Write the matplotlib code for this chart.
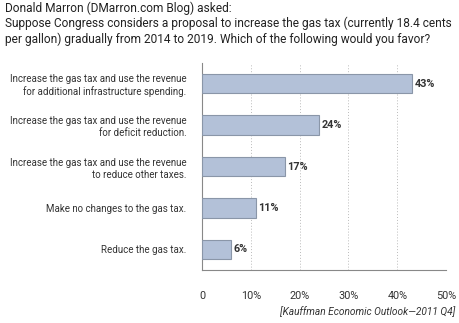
import matplotlib
matplotlib.use("Agg")
import matplotlib.pyplot as plt

plt.rcParams["font.family"] = ["Roboto", "DejaVu Sans"]

categories = [
    "Increase the gas tax and use the revenue\nfor additional infrastructure spending.",
    "Increase the gas tax and use the revenue\nfor deficit reduction.",
    "Increase the gas tax and use the revenue\nto reduce other taxes.",
    "Make no changes to the gas tax.",
    "Reduce the gas tax.",
]
values = [43, 24, 17, 11, 6]
xticks = [0, 10, 20, 30, 40, 50]
xtick_labels = ["0", "10%", "20%", "30%", "40%", "50%"]

title = ("Donald Marron (DMarron.com Blog) asked:\n"
         "Suppose Congress considers a proposal to increase the gas tax (currently 18.4 cents\n"
         "per gallon) gradually from 2014 to 2019. Which of the following would you favor?")
source = "[Kauffman Economic Outlook\u20142011 Q4]"

fig = plt.figure(figsize=(4.6, 3.23), dpi=100)
ax = fig.add_axes([0.439, 0.164, 0.531, 0.641])

ypos = list(range(len(values)))
ax.barh(ypos, values, height=0.47, color="#b3c1d8", edgecolor="#8a96a8",
        linewidth=0.8, zorder=3)
for y, v in zip(ypos, values):
    ax.text(v + 0.5, y, f"{v}%", va="center", ha="left", fontsize=7.8,
            fontweight="bold", color="#333333")

ax.set_ylim(len(values) - 0.5, -0.5)
ax.set_xlim(0, 50)
ax.set_yticks(ypos)
ax.set_yticklabels(categories, fontsize=7.0, color="#333333", linespacing=1.25)
ax.set_xticks(xticks)
ax.set_xticklabels(xtick_labels, fontsize=7.8, color="#333333")
ax.tick_params(axis="y", length=0, pad=11)
ax.tick_params(axis="x", length=0, pad=15)
ax.grid(axis="x", linestyle=(0, (1, 2)), color="#bbbbbb", linewidth=0.7, zorder=0)
for s in ["top", "right"]:
    ax.spines[s].set_visible(False)
for s in ["left", "bottom"]:
    ax.spines[s].set_color("#888888")
    ax.spines[s].set_linewidth(0.8)

fig.text(0.011, 0.995, title, ha="left", va="top", fontsize=8.6,
         color="#222222", linespacing=1.18)
fig.text(0.99, 0.018, source, ha="right", va="bottom", fontsize=7.3,
         style="italic", color="#333333")

fig.savefig("out.png", dpi=100)
